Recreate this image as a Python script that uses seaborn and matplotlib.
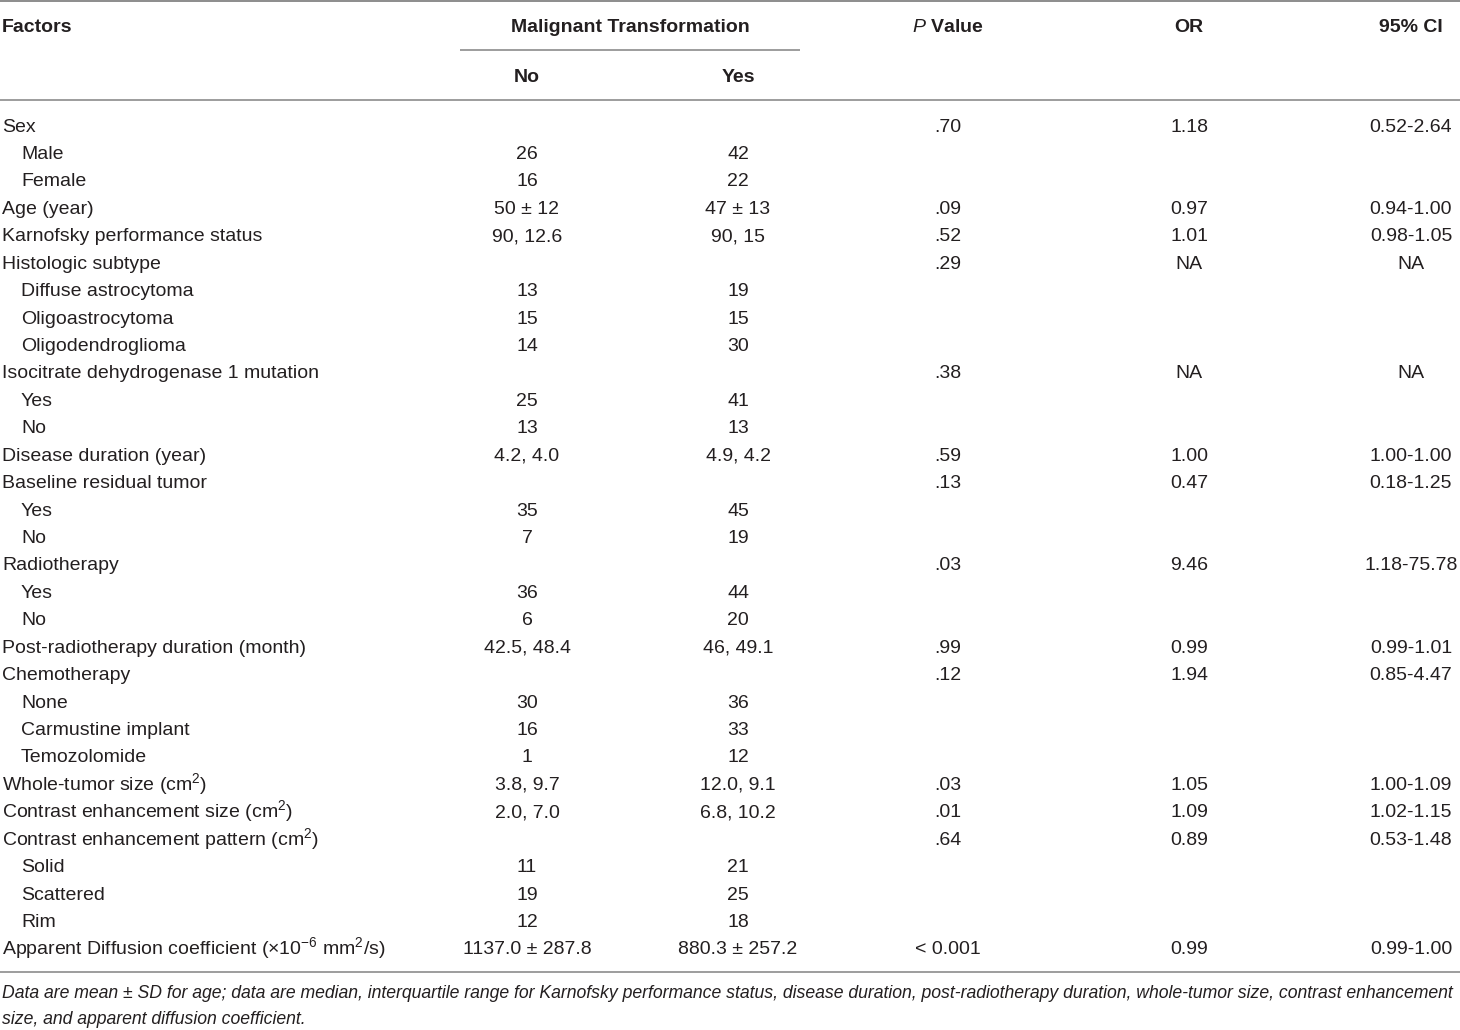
import seaborn as sns
import matplotlib.pyplot as plt
import matplotlib.font_manager as fm
import pandas as pd

factors = [
    "Sex", "Male", "Female", "Age (year)", "Karnofsky performance status",
    "Histologic subtype", "Diffuse astrocytoma", "Oligoastrocytoma", "Oligodendroglioma",
    "Isocitrate dehydrogenase 1 mutation", "Yes", "No", "Disease duration (year)",
    "Baseline residual tumor", "Yes", "No", "Radiotherapy", "Yes", "No",
    "Post-radiotherapy duration (month)", "Chemotherapy", "None", "Carmustine implant",
    "Temozolomide", "Whole-tumor size (cm$^2$)", "Contrast enhancement size (cm$^2$)",
    "Contrast enhancement pattern (cm$^2$)", "Solid", "Scattered", "Rim",
    "Apparent Diffusion coefficient (×10$^{-6}$ mm$^2$/s)",
]
sub_rows = [0, 1, 1, 0, 0, 0, 1, 1, 1, 0, 1, 1, 0, 0, 1, 1, 0, 1, 1, 0, 0, 1, 1, 1,
            0, 0, 0, 1, 1, 1, 0]
no_vals = ["", "26", "16", "50 ± 12", "90, 12.6", "", "13", "15", "14", "", "25", "13",
           "4.2, 4.0", "", "35", "7", "", "36", "6", "42.5, 48.4", "", "30", "16", "1",
           "3.8, 9.7", "2.0, 7.0", "", "11", "19", "12", "1137.0 ± 287.8"]
yes_vals = ["", "42", "22", "47 ± 13", "90, 15", "", "19", "15", "30", "", "41", "13",
            "4.9, 4.2", "", "45", "19", "", "44", "20", "46, 49.1", "", "36", "33", "12",
            "12.0, 9.1", "6.8, 10.2", "", "21", "25", "18", "880.3 ± 257.2"]
p_vals = [".70", "", "", ".09", ".52", ".29", "", "", "", ".38", "", "", ".59", ".13", "",
          "", ".03", "", "", ".99", ".12", "", "", "", ".03", ".01", ".64", "", "", "",
          "< 0.001"]
or_vals = ["1.18", "", "", "0.97", "1.01", "NA", "", "", "", "NA", "", "", "1.00", "0.47",
           "", "", "9.46", "", "", "0.99", "1.94", "", "", "", "1.05", "1.09", "0.89", "",
           "", "", "0.99"]
ci_vals = ["0.52-2.64", "", "", "0.94-1.00", "0.98-1.05", "NA", "", "", "", "NA", "", "",
           "1.00-1.00", "0.18-1.25", "", "", "1.18-75.78", "", "", "0.99-1.01", "0.85-4.47",
           "", "", "", "1.00-1.09", "1.02-1.15", "0.53-1.48", "", "", "", "0.99-1.00"]
footnote = [
    "Data are mean ± SD for age; data are median, interquartile range for Karnofsky performance status, disease duration, post-radiotherapy duration, whole-tumor size, contrast enhancement",
    "size, and apparent diffusion coefficient.",
]

df = pd.DataFrame({"factor": factors, "sub": sub_rows, "no": no_vals, "yes": yes_vals,
                   "p": p_vals, "or": or_vals, "ci": ci_vals})

sns.set_theme(style="white")
names = {f.name for f in fm.fontManager.ttflist}
family = "Liberation Sans Narrow" if "Liberation Sans Narrow" in names else "Liberation Sans"
plt.rcParams["font.family"] = [family, "DejaVu Sans"]
plt.rcParams["mathtext.fontset"] = "custom"
plt.rcParams["mathtext.rm"] = family
plt.rcParams["mathtext.it"] = family + ":italic"
plt.rcParams["mathtext.bf"] = family + ":bold"
plt.rcParams["mathtext.default"] = "regular"

fig = plt.figure(figsize=(14.6, 10.3), dpi=100)
ax = fig.add_axes([0, 0, 1, 1])
ax.set_xlim(0, 1460)
ax.set_ylim(1030, 0)
ax.axis("off")

ink = "#231f20"
rule = "#8c8c8c"
fs = 14
base = 5.5  # baseline offset below row centre, px

# header
hdr = dict(va="baseline", fontsize=fs, fontweight="bold", color=ink)
ax.text(2, 26 + base, "Factors", ha="left", **hdr)
ax.text(630, 26 + base, "Malignant Transformation", ha="center", **hdr)
ax.text(527, 76 + base, "No", ha="center", **hdr)
ax.text(738, 76 + base, "Yes", ha="center", **hdr)
ax.text(948, 26 + base, r"$\mathit{P}$ Value", ha="center", **hdr)
ax.text(1189, 26 + base, "OR", ha="center", **hdr)
ax.text(1411, 26 + base, "95% CI", ha="center", **hdr)

ax.hlines(1, 0, 1460, color=rule, lw=1.4)
ax.hlines(50, 460, 800, color=rule, lw=1.2)
ax.hlines(100, 0, 1460, color=rule, lw=1.2)
ax.hlines(972, 0, 1460, color=rule, lw=1.2)

y0, step = 126, 27.43
cell = dict(va="baseline", fontsize=fs, color=ink)
for i, r in df.iterrows():
    y = y0 + i * step + base
    x = 21 if r["sub"] else 2
    ax.text(x, y, r["factor"], ha="left", **cell)
    ax.text(527, y, r["no"], ha="center", **cell)
    ax.text(738, y, r["yes"], ha="center", **cell)
    ax.text(948, y, r["p"], ha="center", **cell)
    ax.text(1189, y, r["or"], ha="center", **cell)
    ax.text(1411, y, r["ci"], ha="center", **cell)

for k, line in enumerate(footnote):
    ax.text(2, 998 + k * 26, line, ha="left", va="baseline", fontsize=12.7,
            style="italic", color=ink)

fig.savefig("out.png", dpi=100)
